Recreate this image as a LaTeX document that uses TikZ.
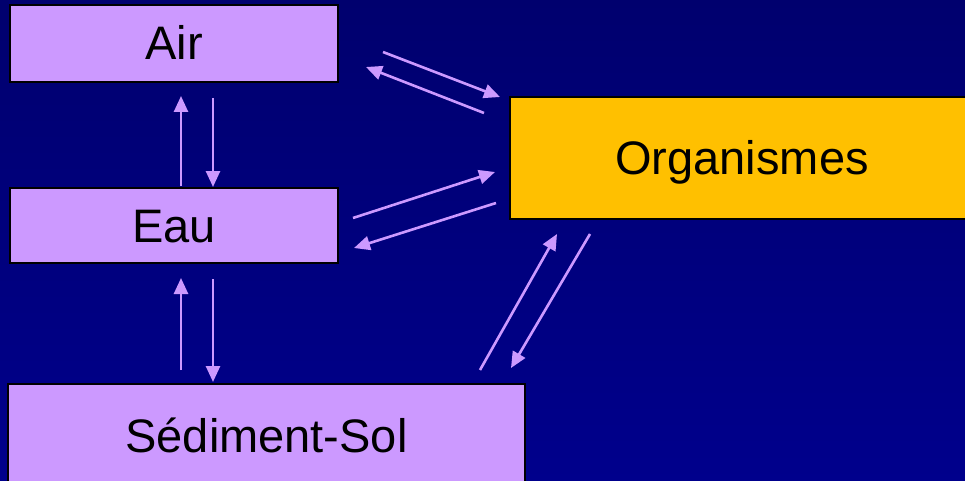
\documentclass[tikz,border=0pt]{standalone}
\usepackage{fontspec}
\setmainfont{Liberation Sans}
\usetikzlibrary{arrows.meta}
\definecolor{bgtop}{RGB}{0,0,110}
\definecolor{bgbot}{RGB}{0,0,140}
\definecolor{lilac}{RGB}{204,153,255}
\definecolor{gold}{RGB}{255,192,0}
\tikzset{
  box/.style={draw=black, line width=1.5pt, inner sep=0pt, text=black,
    font=\fontsize{47}{50}\selectfont, text depth=0pt},
  flow/.style={draw=lilac, line width=2.6pt, -{Triangle[length=16pt,width=14pt]}},
}
\begin{document}
\begin{tikzpicture}[x=1pt,y=-1pt]
\useasboundingbox (0,0) rectangle (965,481);
\fill[top color=bgtop, bottom color=bgbot] (0,0) rectangle (965,481);
\begin{scope}
\clip (0,0) rectangle (965,481);
\node[box, fill=lilac, minimum width=328pt, minimum height=77pt, text height=33pt] (air) at (174,43.5) {Air};
\node[box, fill=lilac, minimum width=328pt, minimum height=75pt, text height=34pt] (eau) at (174,225.5) {Eau};
\node[box, fill=gold, minimum width=464pt, minimum height=122pt, text height=33pt] (org) at (742,158) {Organismes};
\node[box, fill=lilac, minimum width=517pt, minimum height=102pt, text height=34pt] (sed) at (266.5,435) {Sédiment-Sol};

% free ends
\coordinate (a1s) at (383,52);  \coordinate (a1e) at (500,97);
\coordinate (a2s) at (484,113); \coordinate (a2e) at (366,67);
\coordinate (b1s) at (353,218); \coordinate (b1e) at (495,172);
\coordinate (b2s) at (496,203); \coordinate (b2e) at (354,248);
\coordinate (c1s) at (480,370); \coordinate (c1e) at (557,234);
\coordinate (c2s) at (590,234); \coordinate (c2e) at (511,368);
\coordinate (d1s) at (181,186); \coordinate (d1e) at (181,96);
\coordinate (d2s) at (213,98);  \coordinate (d2e) at (213,187);
\coordinate (e1s) at (181,370); \coordinate (e1e) at (181,278);
\coordinate (e2s) at (213,279); \coordinate (e2e) at (213,382);

\draw[flow] (a1s) -- (a1e);
\draw[flow] (a2s) -- (a2e);
\draw[flow] (b1s) -- (b1e);
\draw[flow] (b2s) -- (b2e);
\draw[flow] (c1s) -- (c1e);
\draw[flow] (c2s) -- (c2e);
\draw[flow] (d1s) -- (d1e);
\draw[flow] (d2s) -- (d2e);
\draw[flow] (e1s) -- (e1e);
\draw[flow] (e2s) -- (e2e);
\end{scope}
\end{tikzpicture}
\end{document}
